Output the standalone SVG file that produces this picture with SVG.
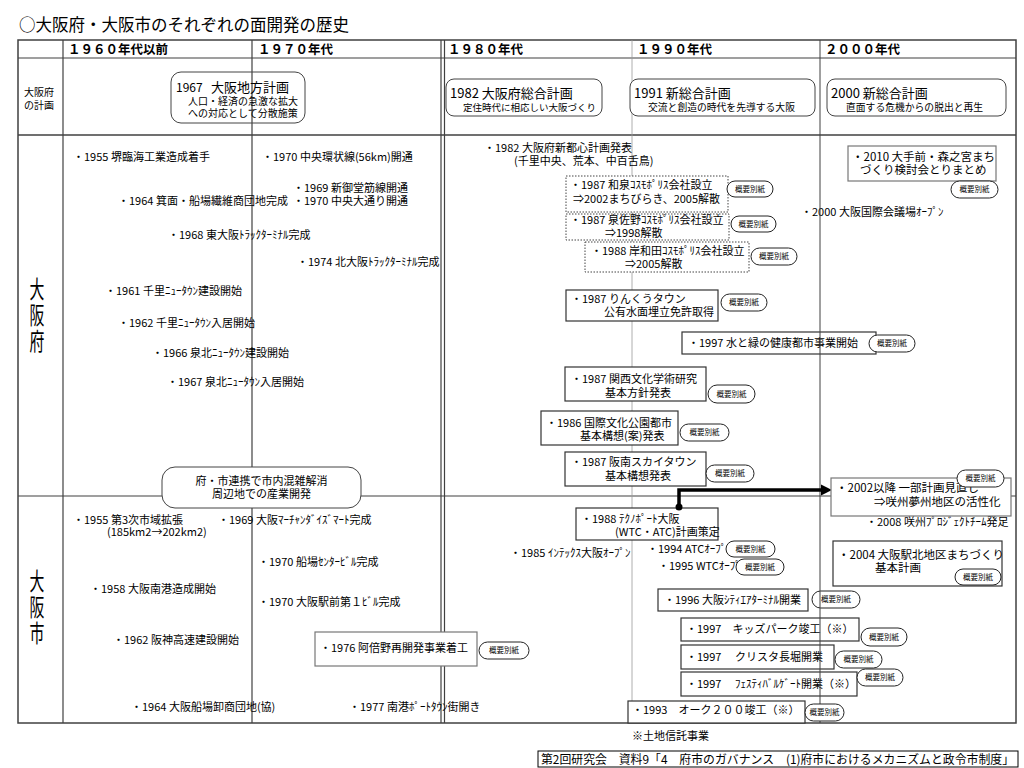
<svg xmlns="http://www.w3.org/2000/svg" width="1024" height="768" viewBox="0 0 1024 768">
<defs>
<style>
text{font-family:"Noto Sans CJK JP","Noto Sans",sans-serif;fill:#000}
.t{font-size:11px}
.tb{font-size:11.5px}
.s{font-size:10px}
.h{font-size:12.5px;font-weight:bold}
.p{font-size:7.5px;text-anchor:middle}
.vt{font-size:24px;writing-mode:vertical-rl;letter-spacing:2px}
.g{stroke:#404040;stroke-width:1.2;fill:none}
.gl{stroke:#9a9a9a;stroke-width:0.8;fill:none}
.box{fill:#fff;stroke:#333;stroke-width:1.2}
.gbox{fill:#fff;stroke:#777;stroke-width:1.2}
.dbox{fill:#fff;stroke:#444;stroke-width:1;stroke-dasharray:1.5 1.5}
.rbox{fill:#fff;stroke:#444;stroke-width:1}
.pill{fill:#fff;stroke:#222;stroke-width:1}
</style>
<marker id="ah" viewBox="0 0 10 10" refX="2" refY="5" markerWidth="3.2" markerHeight="3.2" orient="auto" markerUnits="strokeWidth">
<path d="M0,0 L10,5 L0,10 z" fill="#000"/>
</marker>
</defs>
<rect width="1024" height="768" fill="#fff"/>
<text x="19" y="31" style="font-size:16.5px">○大阪府・大阪市のそれぞれの面開発の歴史</text>

<g id="grid">
<rect x="18" y="40" width="998" height="683" class="g" style="stroke-width:1.5"/>
<line x1="18" y1="58" x2="1016" y2="58" class="g"/>
<line x1="18" y1="135" x2="1016" y2="135" class="g" style="stroke-width:1.6"/>
<line x1="18" y1="496" x2="1016" y2="496" class="g"/>
<line x1="63" y1="40" x2="63" y2="723" class="g"/>
<line x1="252" y1="40" x2="252" y2="723" class="g"/>
<line x1="441" y1="40" x2="441" y2="723" class="g"/>
<line x1="444.5" y1="40" x2="444.5" y2="723" class="g"/>
<line x1="632" y1="40" x2="632" y2="723" class="gl"/>
<line x1="820" y1="40" x2="820" y2="135" class="g" style="stroke-width:1"/>
</g>

<g id="headers">
<text x="68" y="54" class="h">１９６０年代以前</text>
<text x="258" y="54" class="h">１９７０年代</text>
<text x="448" y="54" class="h">１９８０年代</text>
<text x="637" y="54" class="h">１９９０年代</text>
<text x="825" y="54" class="h">２０００年代</text>
<text style="font-size:10px"><tspan x="24" y="96">大阪府</tspan><tspan x="24" y="109">の計画</tspan></text>
<text transform="translate(37,277) scale(0.62,1)" x="0" y="0" class="vt">大阪府</text>
<text transform="translate(37,569) scale(0.62,1)" x="0" y="0" class="vt">大阪市</text>
</g>

<g id="plan1967">
<rect x="171" y="72" width="134" height="51" rx="10" fill="none" stroke="#444" stroke-width="1"/>
<text x="176" y="92" style="font-size:12px">1967<tspan x="211" style="font-size:13px">大阪地方計画</tspan></text>
<text class="s"><tspan x="188" y="105">人口・経済の急激な拡大</tspan><tspan x="188" y="117">への対応として分散施策</tspan></text>
</g>
<g id="plan1982">
<rect x="446" y="79" width="156" height="37" rx="8" class="rbox"/>
<text style="font-size:13px" x="450" y="98">1982 大阪府総合計画<tspan x="463" y="111" style="font-size:9.5px">定住時代に相応しい大阪づくり</tspan></text>
</g>
<g id="plan1991">
<rect x="630" y="79" width="185" height="37" rx="8" class="rbox"/>
<text style="font-size:13px" x="634" y="98">1991 新総合計画<tspan x="648" y="111" style="font-size:9.8px">交流と創造の時代を先導する大阪</tspan></text>
</g>
<g id="plan2000">
<rect x="827" y="79" width="179" height="37" rx="8" class="rbox"/>
<text style="font-size:13px" x="831" y="98">2000 新総合計画<tspan x="846" y="111" style="font-size:9.8px">直面する危機からの脱出と再生</tspan></text>
</g>

<g id="fu-left">
<text x="73" y="161" class="t">・1955 堺臨海工業造成着手</text>
<text x="262" y="161" class="t">・1970 中央環状線(56km)開通</text>
<text class="t"><tspan x="293" y="192">・1969 新御堂筋線開通</tspan><tspan x="293" y="205">・1970 中央大通り開通</tspan></text>
<text x="118" y="205" class="t">・1964 箕面・船場繊維商団地完成</text>
<text x="168" y="239" class="t">・1968 東大阪ﾄﾗｯｸﾀｰﾐﾅﾙ完成</text>
<text x="297" y="266" class="t">・1974 北大阪ﾄﾗｯｸﾀｰﾐﾅﾙ完成</text>
<text x="105" y="295" class="t">・1961 千里ﾆｭｰﾀｳﾝ建設開始</text>
<text x="118" y="327" class="t">・1962 千里ﾆｭｰﾀｳﾝ入居開始</text>
<text x="152" y="357" class="t">・1966 泉北ﾆｭｰﾀｳﾝ建設開始</text>
<text x="167" y="386" class="t">・1967 泉北ﾆｭｰﾀｳﾝ入居開始</text>
</g>

<g id="cooperation">
<rect x="162" y="467" width="199" height="41" rx="13" class="rbox"/>
<text class="t" style="text-anchor:middle"><tspan x="261.5" y="485">府・市連携で市内混雑解消</tspan><tspan x="261.5" y="498">周辺地での産業開発</tspan></text>
</g>

<g id="fu-1982">
<text class="t"><tspan x="484" y="152">・1982 大阪府新都心計画発表</tspan><tspan x="514" y="165">(千里中央、荒本、中百舌鳥)</tspan></text>
</g>
<g id="izumi">
<rect x="566" y="176" width="162" height="36" class="dbox"/>
<text class="t"><tspan x="570" y="189">・1987 和泉ｺｽﾓﾎﾟﾘｽ会社設立</tspan><tspan x="573" y="203">⇒2002まちびらき、2005解散</tspan></text>
<rect x="727" y="181" width="46" height="16" rx="8" class="pill"/>
<text x="750" y="191.7" class="p">概要別紙</text>
</g>
<g id="izumisano">
<rect x="566" y="214" width="163" height="26" class="dbox"/>
<text class="t"><tspan x="570" y="224">・1987 泉佐野ｺｽﾓﾎﾟﾘｽ会社設立</tspan><tspan x="605" y="237">⇒1998解散</tspan></text>
<rect x="731" y="216" width="45" height="16" rx="8" class="pill"/>
<text x="753.5" y="226.7" class="p">概要別紙</text>
</g>
<g id="kishiwada">
<rect x="585" y="242" width="164" height="30" class="dbox"/>
<text class="t"><tspan x="591" y="255">・1988 岸和田ｺｽﾓﾎﾟﾘｽ会社設立</tspan><tspan x="625" y="268">⇒2005解散</tspan></text>
<rect x="751" y="248" width="46" height="17" rx="8.5" class="pill"/>
<text x="774" y="259.2" class="p">概要別紙</text>
</g>
<g id="rinku">
<rect x="566" y="290" width="152" height="31" class="box"/>
<text class="t"><tspan x="571" y="303">・1987 りんくうタウン</tspan><tspan x="604" y="316">公有水面埋立免許取得</tspan></text>
<rect x="721" y="294" width="46" height="17" rx="8.5" class="pill"/>
<text x="744" y="305.2" class="p">概要別紙</text>
</g>
<g id="mizumidori">
<rect x="682" y="332" width="194" height="22" class="box"/>
<text x="688" y="347" class="t">・1997 水と緑の健康都市事業開始</text>
<rect x="869" y="335" width="46" height="17" rx="8.5" class="pill"/>
<text x="892" y="346.2" class="p">概要別紙</text>
</g>
<g id="kansai">
<rect x="565" y="367" width="141" height="34" class="box"/>
<text class="t"><tspan x="571" y="383">・1987 関西文化学術研究</tspan><tspan x="605" y="397">基本方針発表</tspan></text>
<rect x="708" y="385" width="47" height="18" rx="9" class="pill"/>
<text x="731.5" y="396.7" class="p">概要別紙</text>
</g>
<g id="kokusai">
<rect x="541" y="411" width="137" height="34" class="box"/>
<text class="t"><tspan x="546" y="427">・1986 国際文化公園都市</tspan><tspan x="580" y="440">基本構想(案)発表</tspan></text>
<rect x="680" y="424" width="49" height="17" rx="8.5" class="pill"/>
<text x="704.5" y="435.2" class="p">概要別紙</text>
</g>
<g id="hannan">
<rect x="565" y="452" width="141" height="34" class="box"/>
<text class="t"><tspan x="571" y="466">・1987 阪南スカイタウン</tspan><tspan x="605" y="480">基本構想発表</tspan></text>
<rect x="706" y="465" width="48" height="17" rx="8.5" class="pill"/>
<text x="730" y="476.2" class="p">概要別紙</text>
</g>

<g id="otemae">
<rect x="848" y="146" width="148" height="35" class="gbox"/>
<text class="tb"><tspan x="852" y="161">・2010 大手前・森之宮まち</tspan><tspan x="860" y="174">づくり検討会とりまとめ</tspan></text>
<rect x="951" y="181" width="47" height="17" rx="8.5" class="pill"/>
<text x="974.5" y="192.2" class="p">概要別紙</text>
</g>
<g id="kaigijo">
<text x="801" y="216" class="t">・2000 大阪国際会議場ｵｰﾌﾟﾝ</text>
</g>

<g id="shi-left">
<text class="t"><tspan x="73" y="524">・1955 第3次市域拡張</tspan><tspan x="107" y="536">(185km2→202km2)</tspan></text>
<text x="218" y="524" class="t">・1969 大阪ﾏｰﾁｬﾝﾀﾞｲｽﾞﾏｰﾄ完成</text>
<text x="258" y="566" class="t">・1970 船場ｾﾝﾀｰﾋﾞﾙ完成</text>
<text x="90" y="593" class="t">・1958 大阪南港造成開始</text>
<text x="258" y="606" class="t">・1970 大阪駅前第１ﾋﾞﾙ完成</text>
<text x="113" y="644" class="t">・1962 阪神高速建設開始</text>
<text x="131" y="711" class="t">・1964 大阪船場卸商団地(協)</text>
<text x="349" y="711" class="t">・1977 南港ﾎﾟｰﾄﾀｳﾝ街開き</text>
</g>
<g id="abeno">
<rect x="315" y="632" width="162" height="34" class="gbox"/>
<text x="320" y="652" class="t">・1976 阿倍野再開発事業着工</text>
<rect x="479" y="642" width="50" height="17" rx="8.5" class="pill"/>
<text x="504" y="653.2" class="p">概要別紙</text>
</g>

<g id="technoport">
<rect x="576" y="508" width="142" height="32" class="box"/>
<text class="t"><tspan x="581" y="523">・1988 ﾃｸﾉﾎﾟｰﾄ大阪</tspan><tspan x="615" y="536">(WTC・ATC)計画策定</tspan></text>
</g>
<g id="intex">
<text x="510" y="557" class="t">・1985 ｲﾝﾃｯｸｽ大阪ｵｰﾌﾟﾝ</text>
</g>
<g id="atc">
<text x="647" y="553" class="t">・1994 ATCｵｰﾌﾟﾝ</text>
<rect x="726" y="541" width="49" height="16" rx="8" class="pill"/>
<text x="750.5" y="551.7" class="p">概要別紙</text>
</g>
<g id="wtc">
<text x="658" y="570" class="t">・1995 WTCｵｰﾌﾟﾝ</text>
<rect x="736" y="559" width="48" height="16" rx="8" class="pill"/>
<text x="760" y="569.7" class="p">概要別紙</text>
</g>
<g id="oct">
<rect x="658" y="589" width="150" height="22" class="box"/>
<text x="664" y="604" class="t">・1996 大阪ｼﾃｨｴｱﾀｰﾐﾅﾙ開業</text>
<rect x="812" y="591" width="48" height="17" rx="8.5" class="pill"/>
<text x="836" y="602.2" class="p">概要別紙</text>
</g>
<g id="kids">
<rect x="681" y="618" width="178" height="23" class="box"/>
<text x="686" y="633" class="t">・1997　キッズパーク竣工（※）</text>
</g>
<g id="crysta">
<rect x="681" y="645" width="153" height="24" class="box"/>
<text x="686" y="661" class="t">・1997　 クリスタ長堀開業</text>
</g>
<g id="festival">
<rect x="681" y="672" width="176" height="24" class="box"/>
<text x="686" y="688" class="t">・1997　 ﾌｪｽﾃｨﾊﾞﾙｹﾞｰﾄ開業（※）</text>
</g>
<g id="oak200">
<rect x="628" y="701" width="177" height="22" class="box"/>
<text x="632" y="714" class="t">・1993　オーク２００竣工（※）</text>
</g>

<g id="sakishima2008">
<text x="866" y="526" class="t">・2008 咲州ﾌﾟﾛｼﾞｪｸﾄﾁｰﾑ発足</text>
</g>
<g id="umekita">
<rect x="833" y="541" width="169" height="45" class="box"/>
<text class="tb"><tspan x="838" y="559">・2004 大阪駅北地区まちづくり</tspan><tspan x="875" y="572">基本計画</tspan></text>
<rect x="955" y="569" width="46" height="16" rx="8" class="pill"/>
<text x="978" y="579.7" class="p">概要別紙</text>
</g>

<g id="line2000">
<line x1="820" y1="135" x2="820" y2="723" class="g" style="stroke-width:1"/>
</g>

<g id="pills-1997">
<rect x="861" y="628" width="46" height="18" rx="9" class="pill"/>
<text x="884" y="639.7" class="p">概要別紙</text>
<rect x="835" y="651" width="47" height="17" rx="8.5" class="pill"/>
<text x="858.5" y="662.2" class="p">概要別紙</text>
<rect x="857" y="669" width="46" height="17" rx="8.5" class="pill"/>
<text x="880" y="680.2" class="p">概要別紙</text>
<rect x="805" y="704" width="39" height="17" rx="8.5" class="pill"/>
<text x="824.5" y="715.2" class="p">概要別紙</text>
</g>

<g id="connectors">
<path d="M679,507 V490 H823" fill="none" stroke="#000" stroke-width="3.5" marker-end="url(#ah)"/>
<circle cx="679" cy="507" r="3.5" fill="#000"/>
</g>

<g id="sakishima2002">
<rect x="831" y="478" width="180" height="38" class="gbox"/>
<text class="tb"><tspan x="836" y="492">・2002以降 一部計画見直し</tspan><tspan x="874" y="506">⇒咲州夢州地区の活性化</tspan></text>
<rect x="957" y="470" width="47" height="17" rx="8.5" class="pill"/>
<text x="980.5" y="481.2" class="p">概要別紙</text>
</g>

<g id="notes">
<text x="632" y="740" class="t">※土地信託事業</text>
<rect x="538" y="751" width="480" height="16" fill="#fff" stroke="#000" stroke-width="1"/>
<text x="541" y="763.5" style="font-size:12px" textLength="473" lengthAdjust="spacingAndGlyphs">第2回研究会　資料9「4　府市のガバナンス　(1)府市におけるメカニズムと政令市制度」</text>
</g>
</svg>
